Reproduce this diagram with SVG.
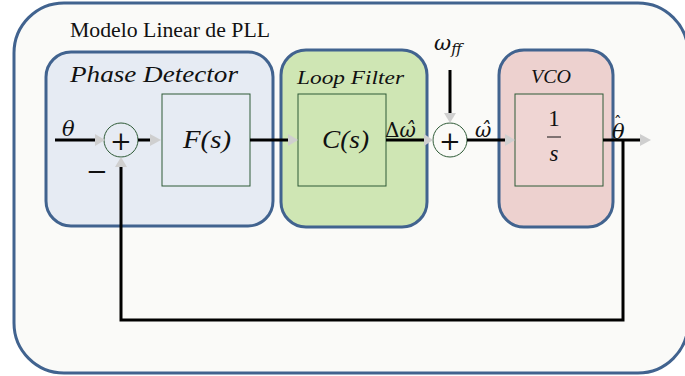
<svg xmlns="http://www.w3.org/2000/svg" width="685" height="376" viewBox="0 0 685 376">
<style>
.grp{stroke:#41638f;stroke-width:3}
.blk{stroke:#2e5a36;stroke-width:1}
.w{stroke:#000;stroke-width:3;fill:none}
.t{font-family:"Liberation Serif","DejaVu Serif",serif;fill:#111}
.m{font-family:"DejaVu Serif","Liberation Serif",serif;fill:#111}
.i{font-style:italic}
.ah{fill:#cfcfcf}
</style>
<rect width="685" height="376" fill="#ffffff"/>
<g id="outer">
<rect x="14" y="3" width="674" height="370" rx="50" fill="#fafaf8" stroke="#41638f" stroke-width="3"/>
<text x="70" y="37" class="t" font-size="20" textLength="200" lengthAdjust="spacingAndGlyphs">Modelo Linear de PLL</text>
</g>
<g id="phase-detector">
<rect x="46" y="52" width="227" height="174" rx="25" fill="#e6ebf3" class="grp"/>
<text x="70" y="82" class="t i" font-size="23" textLength="168" lengthAdjust="spacingAndGlyphs">Phase Detector</text>
</g>
<g id="loop-filter">
<rect x="281" y="50" width="146" height="177" rx="25" fill="#cfe6b4" class="grp"/>
<text x="297" y="84" class="t i" font-size="19" textLength="107" lengthAdjust="spacingAndGlyphs">Loop Filter</text>
</g>
<g id="vco">
<rect x="499" y="50" width="114" height="177" rx="25" fill="#edd1cf" class="grp"/>
<text x="531" y="83" class="t i" font-size="19" textLength="40" lengthAdjust="spacingAndGlyphs">VCO</text>
</g>
<g id="F">
<rect x="162" y="94" width="88" height="92" fill="#e6ebf3" class="blk"/>
<text x="183" y="148" class="t i" font-size="25" textLength="48" lengthAdjust="spacingAndGlyphs">F(s)</text>
</g>
<g id="C">
<rect x="298" y="94" width="88" height="92" fill="#cfe6b4" class="blk"/>
<text x="322" y="148" class="t i" font-size="25" textLength="47" lengthAdjust="spacingAndGlyphs">C(s)</text>
</g>
<g id="integrator">
<rect x="515" y="94" width="88" height="92" fill="#efd5d3" class="blk"/>
<text x="554" y="126" class="t" font-size="23" text-anchor="middle">1</text>
<line x1="547" y1="137" x2="561" y2="137" stroke="#111" stroke-width="1"/>
<text x="554" y="161" class="t i" font-size="23" text-anchor="middle">s</text>
</g>
<g id="sum1">
<circle cx="121" cy="140" r="17" fill="#e6ebf3" class="blk"/>
<text x="121" y="150" class="m" font-size="26" text-anchor="middle">+</text>
</g>
<g id="sum2">
<circle cx="450" cy="140" r="17" fill="#fafaf8" class="blk"/>
<text x="450" y="150" class="m" font-size="26" text-anchor="middle">+</text>
</g>
<g id="connectors">
<line x1="55" y1="140" x2="95" y2="140" class="w"/>
<path d="M95,134 L105,140 L95,146 Z" class="ah"/>
<line x1="138" y1="140" x2="150" y2="140" class="w"/>
<path d="M150,134 L161,140 L150,146 Z" class="ah"/>
<line x1="250" y1="140" x2="288" y2="140" class="w"/>
<path d="M288,134 L298,140 L288,146 Z" class="ah"/>
<line x1="386" y1="140" x2="425" y2="140" class="w"/>
<path d="M424,134 L433,140 L424,146 Z" class="ah"/>
<line x1="450" y1="70" x2="450" y2="113" class="w"/>
<path d="M444,113 L450,123 L456,113 Z" class="ah"/>
<line x1="467" y1="140" x2="505" y2="140" class="w"/>
<path d="M505,134 L515,140 L505,146 Z" class="ah"/>
<line x1="603" y1="140" x2="640" y2="140" class="w"/>
<path d="M640,134 L651,140 L640,146 Z" class="ah"/>
<polyline points="623,140 623,320 121,320 121,167" class="w"/>
<path d="M115,167 L121,157 L127,167 Z" class="ah"/>
</g>
<g id="labels">
<text x="62" y="136" class="m i" font-size="21">θ</text>
<text x="86" y="180" class="m" font-size="26" fill="#555">−</text>
<text x="385" y="137" class="m" font-size="20">Δ<tspan font-style="italic">ω̂</tspan></text>
<text x="475" y="137" class="m i" font-size="20">ω̂</text>
<text x="612" y="139" class="m i" font-size="21">θ<tspan dx="-11" dy="-11" font-size="16" font-style="normal">ˆ</tspan></text>
<text x="434" y="50" class="m i" font-size="21">ω<tspan font-size="15" dy="4">ff</tspan></text>
</g>
</svg>
